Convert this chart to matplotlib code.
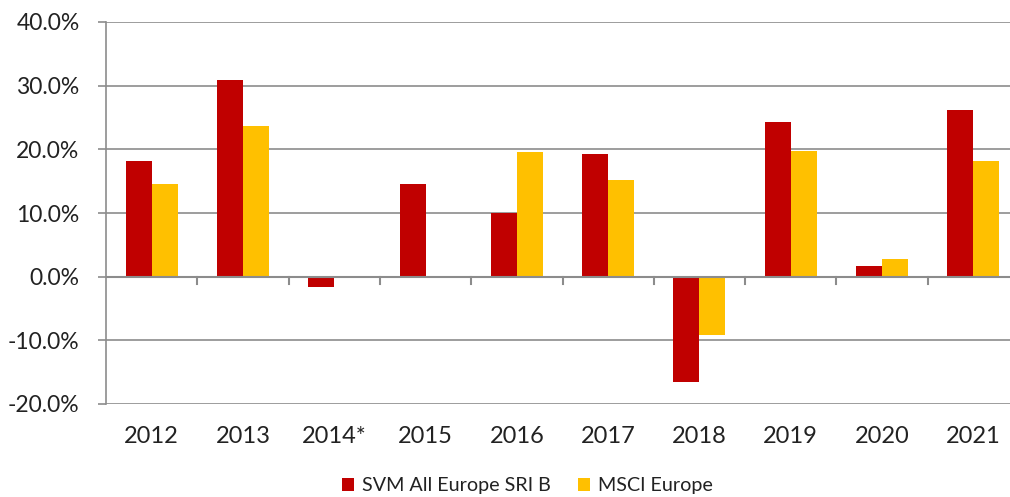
import matplotlib
matplotlib.use("Agg")
import matplotlib.pyplot as plt
import numpy as np
from matplotlib.ticker import FuncFormatter

years = ["2012", "2013", "2014*", "2015", "2016", "2017", "2018", "2019", "2020", "2021"]
svm = [18.2, 30.9, -1.7, 14.6, 10.0, 19.2, -16.6, 24.3, 1.7, 26.2]
msci = [14.6, 23.6, 0.1, 0.0, 19.6, 15.2, -9.1, 19.8, 2.7, 18.1]
series_names = ["SVM All Europe SRI B", "MSCI Europe"]
colors = ["#C00000", "#FFC000"]

plt.rcParams['font.family'] = ['Lato', 'DejaVu Sans']

W, H = 1010, 497
fig = plt.figure(figsize=(W / 100, H / 100), dpi=100)
left, right, top, bottom = 106, 1019, 22, 404
ax = fig.add_axes([left / W, 1 - bottom / H, (right - left) / W, (bottom - top) / H])

x = np.arange(len(years))
bw = 0.285
ax.bar(x - bw / 2, svm, bw, color=colors[0], label=series_names[0], zorder=3)
ax.bar(x + bw / 2, msci, bw, color=colors[1], label=series_names[1], zorder=3)

ax.set_xlim(-0.5, len(years) - 0.5)
ax.set_ylim(-20, 40)
ax.set_yticks(np.arange(-20, 41, 10))
ax.yaxis.set_major_formatter(FuncFormatter(lambda v, p: f"{v:.1f}%"))
ax.grid(axis='y', color='#8c8c8c', linewidth=1.2, zorder=0)
ax.set_axisbelow(True)

for s in ['top', 'right', 'bottom']:
    ax.spines[s].set_visible(False)
ax.spines['left'].set_color('#8c8c8c')
ax.spines['left'].set_linewidth(1.2)
ax.axhline(0, color='#8c8c8c', linewidth=1.5, zorder=4)

ax.tick_params(axis='y', length=6, width=1.2, color='#8c8c8c', labelsize=16.5, pad=13, labelcolor='#222222')

# category boundary ticks below zero line
ax.set_xticks([])
for b in np.arange(0.5, len(years) - 0.5, 1.0):
    ax.plot([b, b], [0, -1.1], color='#8c8c8c', linewidth=1.5, zorder=4, clip_on=False)

for i, yr in enumerate(years):
    ax.text(i, -23.4, yr, ha='center', va='top', fontsize=17, color='#222222',
            transform=ax.transData)

leg = fig.legend(loc='center', bbox_to_anchor=(0.522, 1 - 486 / H), ncol=2, frameon=False,
                 fontsize=14.2, handlelength=0.6, handleheight=0.6, handletextpad=0.4,
                 columnspacing=1.4, labelcolor='#222222')

fig.savefig("out.png", dpi=100)
